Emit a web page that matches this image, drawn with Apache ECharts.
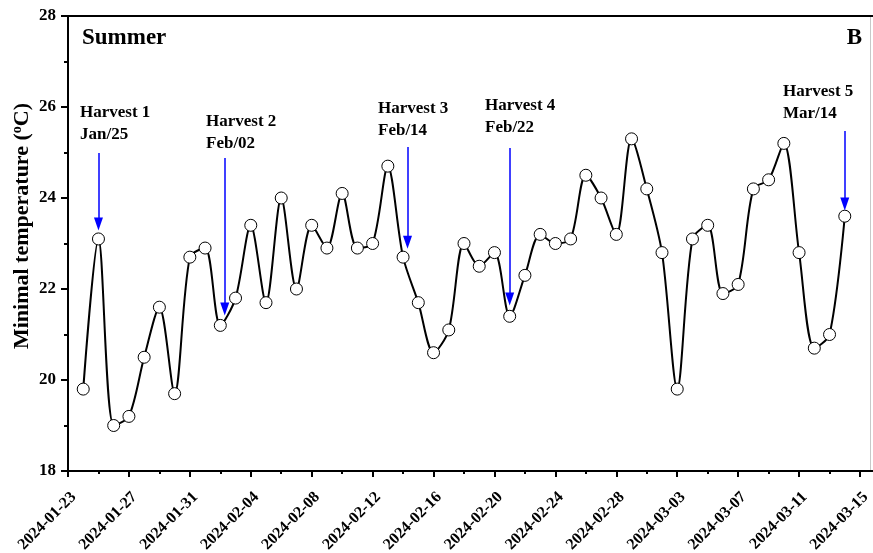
<!DOCTYPE html>
<html>
<head>
<meta charset="utf-8">
<script src="https://cdn.jsdelivr.net/npm/echarts@6/dist/echarts.min.js"></script>
<style>
  html, body { margin: 0; padding: 0; background: #fff; }
  #chart { width: 873px; height: 553px; }
</style>
</head>
<body>
<div id="chart"></div>
<script>
// Daily minimal temperature, summer season
const dates = [
  '2024-01-24', '2024-01-25', '2024-01-26', '2024-01-27', '2024-01-28', '2024-01-29', '2024-01-30', '2024-01-31',
  '2024-02-01', '2024-02-02', '2024-02-03', '2024-02-04', '2024-02-05', '2024-02-06', '2024-02-07', '2024-02-08',
  '2024-02-09', '2024-02-10', '2024-02-11', '2024-02-12', '2024-02-13', '2024-02-14', '2024-02-15', '2024-02-16',
  '2024-02-17', '2024-02-18', '2024-02-19', '2024-02-20', '2024-02-21', '2024-02-22', '2024-02-23', '2024-02-24',
  '2024-02-25', '2024-02-26', '2024-02-27', '2024-02-28', '2024-02-29', '2024-03-01', '2024-03-02', '2024-03-03',
  '2024-03-04', '2024-03-05', '2024-03-06', '2024-03-07', '2024-03-08', '2024-03-09', '2024-03-10', '2024-03-11',
  '2024-03-12', '2024-03-13', '2024-03-14'
];
const minTemp = [
  19.8, 23.1, 19.0, 19.2, 20.5, 21.6, 19.7, 22.7,
  22.9, 21.2, 21.8, 23.4, 21.7, 24.0, 22.0, 23.4,
  22.9, 24.1, 22.9, 23.0, 24.7, 22.7, 21.7, 20.6,
  21.1, 23.0, 22.5, 22.8, 21.4, 22.3, 23.2, 23.0,
  23.1, 24.5, 24.0, 23.2, 25.3, 24.2, 22.8, 19.8,
  23.1, 23.4, 21.9, 22.1, 24.2, 24.4, 25.2, 22.8,
  20.7, 21.0, 23.6
];

// Axis settings
const xStartDate = '2024-01-23';
const xEndDate = '2024-03-15';
const xTickDays = 4;
const yMin = 18, yMax = 28, yStep = 2;

// Harvest annotations
const harvestNames = ['Harvest 1', 'Harvest 2', 'Harvest 3', 'Harvest 4', 'Harvest 5'];
const harvestDates = ['Jan/25', 'Feb/02', 'Feb/14', 'Feb/22', 'Mar/14'];
const arrowAt = ['2024-01-25T00:00', '2024-02-02T07:00', '2024-02-14T07:00', '2024-02-21T00:00', '2024-03-14T00:00'];
const arrowFrom = [24.99, 24.88, 25.12, 25.10, 25.47];
const arrowTo = [23.43, 21.56, 23.03, 21.78, 23.87];

const DAY = 86400000;
const base = Date.parse(xStartDate + 'T00:00:00Z');
function dayOffset(s) {
  const t = Date.parse(s.length === 10 ? s + 'T00:00:00Z' : s + ':00Z');
  return (t - base) / DAY;
}
function fmtDate(v) {
  const d = new Date(base + Math.round(v) * DAY);
  const p = n => String(n).padStart(2, '0');
  return d.getUTCFullYear() + '-' + p(d.getUTCMonth() + 1) + '-' + p(d.getUTCDate());
}

const FONT = '"Liberation Serif", "Times New Roman", serif';
const seriesData = dates.map((d, i) => [dayOffset(d), minTemp[i]]);
const arrows = arrowAt.map((d, i) => [
  { coord: [dayOffset(d), arrowFrom[i]] },
  { coord: [dayOffset(d), arrowTo[i]] }
]);

// Text block positions for the harvest captions (pixels)
const captionPos = [[80, 102], [206, 111], [378, 98], [485, 95], [783, 81]];

const chart = echarts.init(document.getElementById('chart'));
chart.setOption({
  animation: false,
  backgroundColor: '#fff',
  grid: { left: 68, right: 13, top: 16, bottom: 82, containLabel: false, outerBoundsMode: 'none' },
  xAxis: {
    type: 'value',
    min: 0,
    max: dayOffset(xEndDate),
    interval: xTickDays,
    axisLine: { lineStyle: { color: '#000', width: 2 } },
    axisTick: { show: true, inside: false, length: 6, lineStyle: { color: '#000', width: 2 } },
    minorTick: { show: true, splitNumber: 2, length: 3, lineStyle: { color: '#000', width: 2 } },
    splitLine: { show: false },
    axisLabel: {
      rotate: 45,
      margin: 18,
      verticalAlign: 'top',
      color: '#000',
      fontFamily: FONT,
      fontWeight: 'bold',
      fontSize: 16,
      formatter: v => fmtDate(v)
    }
  },
  yAxis: {
    type: 'value',
    min: yMin,
    max: yMax,
    interval: yStep,
    axisLine: { show: true, lineStyle: { color: '#000', width: 2 } },
    axisTick: { show: true, inside: false, length: 7, lineStyle: { color: '#000', width: 2 } },
    minorTick: { show: true, splitNumber: 2, length: 4, lineStyle: { color: '#000', width: 2 } },
    splitLine: { show: false },
    axisLabel: {
      margin: 12,
      color: '#000',
      fontFamily: FONT,
      fontWeight: 'bold',
      fontSize: 17
    }
  },
  series: [{
    type: 'line',
    data: seriesData,
    smooth: 0.3,
    symbol: 'circle',
    symbolSize: 12,
    showAllSymbol: true,
    lineStyle: { color: '#000', width: 2 },
    itemStyle: { color: '#fff', borderColor: '#000', borderWidth: 1 },
    z: 3,
    markLine: {
      silent: true,
      symbol: ['none', 'triangle'],
      symbolSize: [9, 13],
      label: { show: false },
      lineStyle: { color: '#0000ff', width: 1.5, type: 'solid' },
      data: arrows,
      z: 5
    }
  }],
  graphic: [
    { type: 'line', shape: { x1: 68, y1: 16, x2: 873, y2: 16 }, style: { stroke: '#000', lineWidth: 2 }, silent: true },
    { type: 'line', shape: { x1: 859, y1: 471, x2: 873, y2: 471 }, style: { stroke: '#000', lineWidth: 2 }, silent: true },
    { type: 'line', shape: { x1: 870.5, y1: 17, x2: 870.5, y2: 470 }, style: { stroke: '#c8c8c8', lineWidth: 1 }, silent: true },
    { type: 'text', x: 82, y: 27, style: { text: 'Summer', fontFamily: FONT, fontWeight: 'bold', fontSize: 23, fill: '#000' } },
    { type: 'text', x: 862, y: 27, style: { text: 'B', align: 'right', fontFamily: FONT, fontWeight: 'bold', fontSize: 23, fill: '#000' } },
    {
      type: 'text', x: 22, y: 226, rotation: Math.PI / 2,
      style: {
        text: 'Minimal temperature ({sup|o}C)',
        align: 'center', verticalAlign: 'middle',
        fontFamily: FONT, fontWeight: 'bold', fontSize: 22, fill: '#000',
        rich: { sup: { fontFamily: FONT, fontWeight: 'bold', fontSize: 14, verticalAlign: 'top', padding: [0, 0, 10, 0] } }
      }
    }
  ].concat(harvestNames.map((n, i) => ({
    type: 'text', x: captionPos[i][0], y: captionPos[i][1],
    style: {
      text: n + '\n' + harvestDates[i],
      fontFamily: FONT, fontWeight: 'bold', fontSize: 17, lineHeight: 22, fill: '#000'
    }
  })))
});
</script>
</body>
</html>
